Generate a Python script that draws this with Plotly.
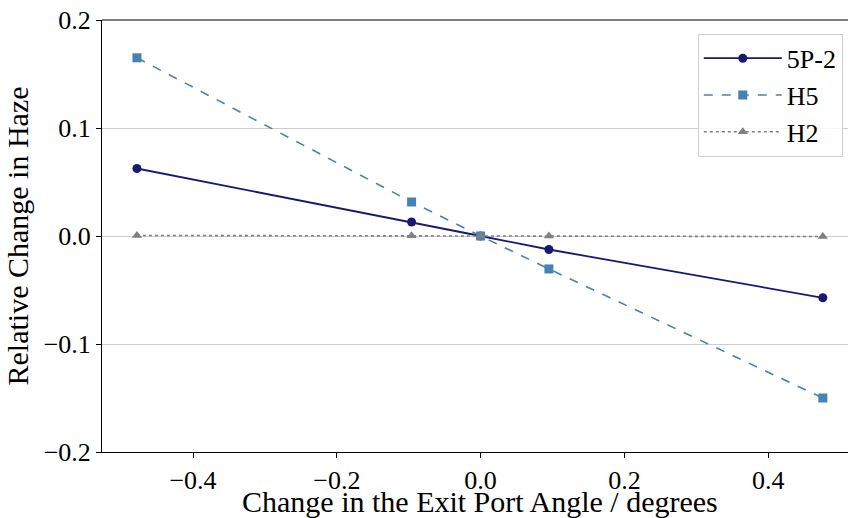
import plotly.graph_objects as go

angle = [-0.478, -0.096, 0.0, 0.095, 0.476]
p52 = [0.0625, 0.013, 0.0, -0.0125, -0.0572]
h5 = [0.165, 0.0315, 0.0, -0.0305, -0.150]
h2 = [0.0005, 0.0003, 0.0, 0.0, -0.0005]

series = [
    ("5P-2", p52, "#191970", "solid", "circle", 1.8),
    ("H5", h5, "#4682B4", "dash", "square", 1.6),
    ("H2", h2, "#808080", "dot", "triangle-up", 1.6),
]

fig = go.Figure()
for name, ys, col, dash, sym, lw in series:
    fig.add_trace(go.Scatter(
        x=angle, y=ys, name=name, mode="lines+markers",
        line=dict(color=col, width=lw, dash=dash),
        marker=dict(color=col, size=9, symbol=sym),
    ))

font = "Liberation Serif, Times New Roman, serif"
fig.update_layout(
    width=848, height=518,
    margin=dict(l=102, r=0, t=20, b=66, autoexpand=False),
    paper_bgcolor="white", plot_bgcolor="white",
    font=dict(family=font, size=26, color="black"),
    legend=dict(x=0.993, xanchor="right", y=0.968, yanchor="top",
                bordercolor="#d0d0d0", borderwidth=1, bgcolor="rgba(255,255,255,0.8)",
                font=dict(size=26), itemwidth=78),
    xaxis=dict(range=[-0.5266, 0.511], tickvals=[-0.4, -0.2, 0.0, 0.2, 0.4],
               ticktext=["\u22120.4", "\u22120.2", "0.0", "0.2", "0.4"],
               showgrid=False, zeroline=False, showline=True, linecolor="black", linewidth=1,
               ticks="outside", ticklen=5, tickcolor="black", tickfont=dict(size=26),
               automargin=False),
    yaxis=dict(range=[-0.2, 0.2], tickvals=[-0.2, -0.1, 0.0, 0.1, 0.2],
               ticktext=["\u22120.2", "\u22120.1", "0.0", "0.1", "0.2"],
               showgrid=True, gridcolor="#cccccc", gridwidth=1, zeroline=False,
               showline=True, linecolor="black", linewidth=1,
               ticks="outside", ticklen=5, tickcolor="black", tickfont=dict(size=26),
               automargin=False,
               title=dict(text="Relative Change in Haze", font=dict(size=30), standoff=6)),
    shapes=[dict(type="line", xref="paper", yref="paper", x0=0, x1=1, y0=1, y1=1,
                 line=dict(color="#555555", width=1.5))],
    annotations=[dict(text="Change in the Exit Port Angle / degrees", xref="paper", yref="paper",
                      x=0.507, y=-0.1157, xanchor="center", yanchor="middle", showarrow=False,
                      font=dict(size=30))],
)
fig.write_html("out.html")
